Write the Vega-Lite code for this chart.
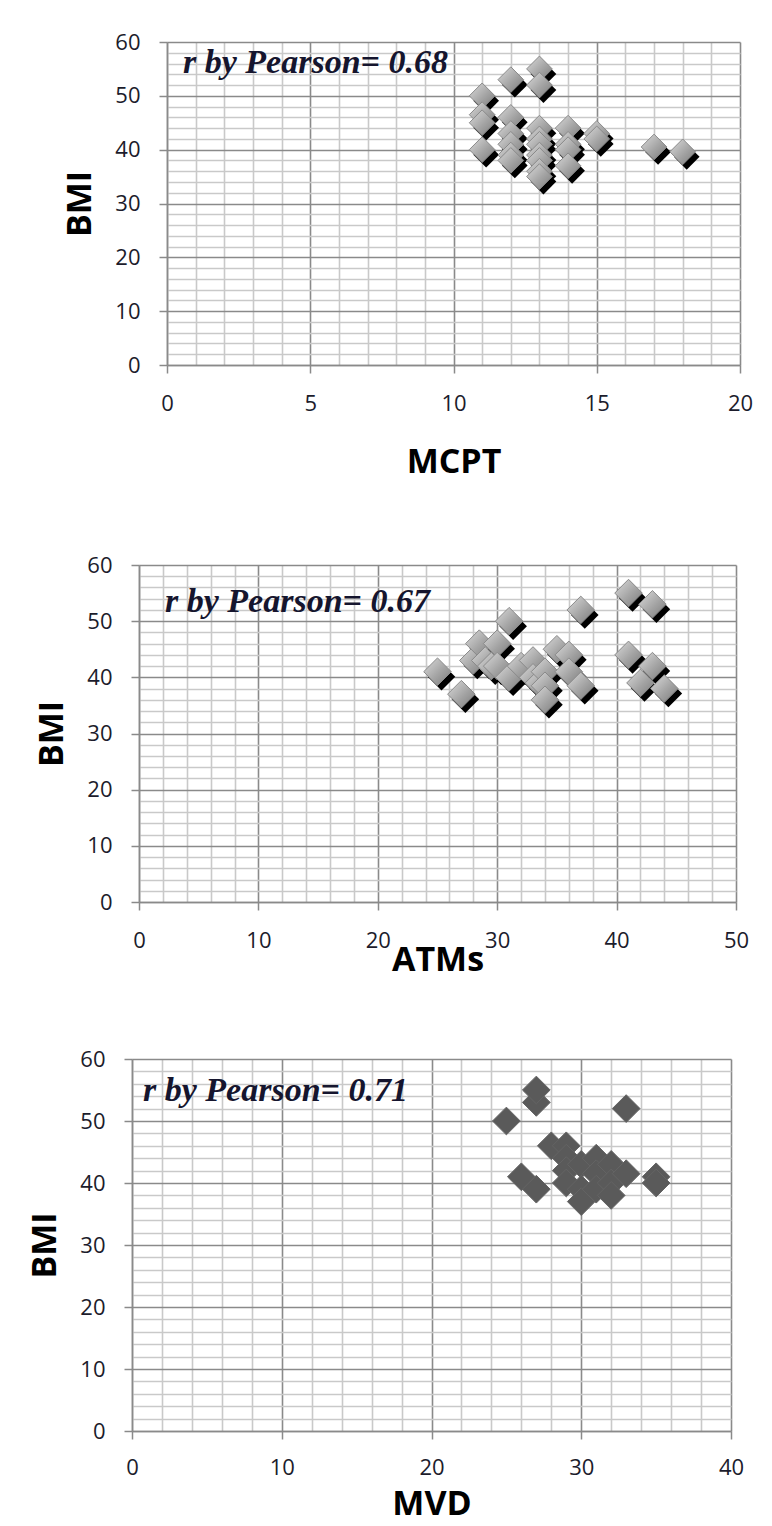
{
  "$schema": "https://vega.github.io/schema/vega-lite/v6.json",
  "background": "white",
  "padding": {"left": 28, "top": 31, "right": 5, "bottom": 2},
  "bounds": "full",
  "spacing": 75,
  "config": {
    "font": "Open Sans",
    "view": {"stroke": null},
    "axis": {
      "grid": true,
      "gridWidth": 1.6,
      "tickSize": 8,
      "tickColor": "#8a8a8a",
      "tickWidth": 1.5,
      "domainColor": "#8a8a8a",
      "domainWidth": 1.5,
      "labelFont": "Open Sans",
      "labelFontSize": 22,
      "labelColor": "#1c1c2c",
      "labelOverlap": false,
      "labelFlush": false,
      "titleFont": "Open Sans",
      "titleFontSize": 34,
      "titleFontWeight": "bold",
      "titleColor": "#000000",
      "titleBaseline": "middle"
    },
    "axisX": {"labelPadding": 20},
    "axisY": {"labelPadding": 19, "titleX": -87},
    "title": {"anchor": "start", "frame": "group", "baseline": "alphabetic", "font": "Liberation Serif", "fontSize": 34, "fontStyle": "italic", "fontWeight": "bold", "color": "#15152e"}
  },
  "datasets": {
    "mcpt": [
      {"mcpt": 11, "bmi": 50}, {"mcpt": 11, "bmi": 46.5}, {"mcpt": 11, "bmi": 45}, {"mcpt": 11, "bmi": 40},
      {"mcpt": 12, "bmi": 53}, {"mcpt": 12, "bmi": 46}, {"mcpt": 12, "bmi": 43}, {"mcpt": 12, "bmi": 41},
      {"mcpt": 12, "bmi": 39}, {"mcpt": 12, "bmi": 38},
      {"mcpt": 13, "bmi": 55}, {"mcpt": 13, "bmi": 52}, {"mcpt": 13, "bmi": 44}, {"mcpt": 13, "bmi": 42},
      {"mcpt": 13, "bmi": 41}, {"mcpt": 13, "bmi": 39}, {"mcpt": 13, "bmi": 38}, {"mcpt": 13, "bmi": 36},
      {"mcpt": 13, "bmi": 35},
      {"mcpt": 14, "bmi": 44}, {"mcpt": 14, "bmi": 41}, {"mcpt": 14, "bmi": 40}, {"mcpt": 14, "bmi": 37},
      {"mcpt": 15, "bmi": 43}, {"mcpt": 15, "bmi": 42},
      {"mcpt": 17, "bmi": 40.5}, {"mcpt": 18, "bmi": 39.6}
    ],
    "atms": [
      {"atms": 25, "bmi": 41}, {"atms": 27, "bmi": 37}, {"atms": 28, "bmi": 43}, {"atms": 28.5, "bmi": 46},
      {"atms": 29, "bmi": 43}, {"atms": 29.5, "bmi": 42}, {"atms": 30, "bmi": 46}, {"atms": 30, "bmi": 42},
      {"atms": 31, "bmi": 50}, {"atms": 31, "bmi": 40}, {"atms": 32, "bmi": 42}, {"atms": 33, "bmi": 43},
      {"atms": 33, "bmi": 40}, {"atms": 33.5, "bmi": 39}, {"atms": 34, "bmi": 41}, {"atms": 34, "bmi": 38.5},
      {"atms": 34, "bmi": 36}, {"atms": 35, "bmi": 45}, {"atms": 36, "bmi": 44}, {"atms": 36, "bmi": 41},
      {"atms": 37, "bmi": 38.5}, {"atms": 37, "bmi": 52}, {"atms": 41, "bmi": 55}, {"atms": 43, "bmi": 53},
      {"atms": 41, "bmi": 44}, {"atms": 43, "bmi": 42}, {"atms": 42, "bmi": 39}, {"atms": 44, "bmi": 38}
    ],
    "mvd": [
      {"mvd": 25, "bmi": 50}, {"mvd": 26, "bmi": 41}, {"mvd": 27, "bmi": 39}, {"mvd": 27, "bmi": 53},
      {"mvd": 27, "bmi": 55}, {"mvd": 28, "bmi": 46}, {"mvd": 29, "bmi": 46}, {"mvd": 29, "bmi": 44},
      {"mvd": 29, "bmi": 42}, {"mvd": 29, "bmi": 40}, {"mvd": 30, "bmi": 43}, {"mvd": 30, "bmi": 39},
      {"mvd": 30, "bmi": 37}, {"mvd": 31, "bmi": 44}, {"mvd": 31, "bmi": 41.5}, {"mvd": 31, "bmi": 39},
      {"mvd": 32, "bmi": 43}, {"mvd": 32, "bmi": 40}, {"mvd": 32, "bmi": 38}, {"mvd": 33, "bmi": 41.5},
      {"mvd": 33, "bmi": 52}, {"mvd": 35, "bmi": 41}, {"mvd": 35, "bmi": 40}
    ]
  },
  "vconcat": [
    {
      "width": 608,
      "height": 323,
      "title": {"text": "r by Pearson= 0.68", "offset": -49, "dx": 51},
      "data": {"name": "mcpt"},
      "encoding": {
        "x": {
          "field": "mcpt", "type": "quantitative",
          "scale": {"domain": [0, 20], "range": [35, 608], "nice": false, "zero": false},
          "axis": {
            "title": "MCPT",
            "titleY": 97,
            "values": [0,1,2,3,4,5,6,7,8,9,10,11,12,13,14,15,16,17,18,19,20],
            "labelExpr": "datum.value % 5 === 0 ? datum.label : ''",
            "gridColor": {"condition": {"test": "datum.value % 5 === 0", "value": "#8a8a8a"}, "value": "#c9c9c9"},
            "tickOpacity": {"condition": {"test": "datum.value % 5 === 0", "value": 1}, "value": 0}
          }
        },
        "y": {
          "field": "bmi", "type": "quantitative",
          "scale": {"domain": [0, 60], "nice": false, "zero": false},
          "axis": {
            "title": "BMI",
            "offset": -35,
            "values": [0,2,4,6,8,10,12,14,16,18,20,22,24,26,28,30,32,34,36,38,40,42,44,46,48,50,52,54,56,58,60],
            "labelExpr": "datum.value % 10 === 0 ? datum.label : ''",
            "gridColor": {"condition": {"test": "datum.value % 10 === 0", "value": "#8a8a8a"}, "value": "#c9c9c9"},
            "tickOpacity": {"condition": {"test": "datum.value % 10 === 0", "value": 1}, "value": 0}
          }
        }
      },
      "layer": [
        {"mark": {"type": "point", "shape": "diamond", "filled": true, "color": "#000000", "opacity": 1, "size": 660, "xOffset": 4, "yOffset": 5}},
        {"mark": {"type": "point", "shape": "diamond", "filled": true, "opacity": 1, "size": 660, "stroke": "#8a8a8a", "strokeWidth": 1,
          "fill": {"gradient": "linear", "x1": 0, "y1": 0, "x2": 1, "y2": 1, "stops": [{"offset": 0, "color": "#dcdcdc"}, {"offset": 0.55, "color": "#a4a4a4"}, {"offset": 1, "color": "#7a7a7a"}]}}}
      ]
    },
    {
      "vconcat": [
        {
          "width": 604,
          "height": 337,
          "title": {"text": "r by Pearson= 0.67", "offset": -65, "dx": 33},
          "data": {"name": "atms"},
          "encoding": {
            "x": {
              "field": "atms", "type": "quantitative",
              "scale": {"domain": [0, 50], "range": [7, 604], "nice": false, "zero": false},
              "axis": {
                "title": "ATMs",
                "titleY": 58,
                "values": [0,2,4,6,8,10,12,14,16,18,20,22,24,26,28,30,32,34,36,38,40,42,44,46,48,50],
                "labelExpr": "datum.value % 10 === 0 ? datum.label : ''",
                "gridColor": {"condition": {"test": "datum.value % 10 === 0", "value": "#8a8a8a"}, "value": "#c9c9c9"},
                "tickOpacity": {"condition": {"test": "datum.value % 10 === 0", "value": 1}, "value": 0}
              }
            },
            "y": {
              "field": "bmi", "type": "quantitative",
              "scale": {"domain": [0, 60], "nice": false, "zero": false},
              "axis": {
                "title": "BMI",
                "offset": -7,
                "values": [0,2,4,6,8,10,12,14,16,18,20,22,24,26,28,30,32,34,36,38,40,42,44,46,48,50,52,54,56,58,60],
                "labelExpr": "datum.value % 10 === 0 ? datum.label : ''",
                "gridColor": {"condition": {"test": "datum.value % 10 === 0", "value": "#8a8a8a"}, "value": "#c9c9c9"},
                "tickOpacity": {"condition": {"test": "datum.value % 10 === 0", "value": 1}, "value": 0}
              }
            }
          },
          "layer": [
            {"mark": {"type": "point", "shape": "diamond", "filled": true, "color": "#000000", "opacity": 1, "size": 760, "xOffset": 4, "yOffset": 5}},
            {"mark": {"type": "point", "shape": "diamond", "filled": true, "opacity": 1, "size": 760, "stroke": "#8a8a8a", "strokeWidth": 1,
              "fill": {"gradient": "linear", "x1": 0, "y1": 0, "x2": 1, "y2": 1, "stops": [{"offset": 0, "color": "#dcdcdc"}, {"offset": 0.55, "color": "#a4a4a4"}, {"offset": 1, "color": "#7a7a7a"}]}}}
          ]
        },
        {
          "width": 599,
          "height": 372,
          "title": {"text": "r by Pearson= 0.71", "offset": -60, "dx": 11},
          "data": {"name": "mvd"},
          "encoding": {
            "x": {
              "field": "mvd", "type": "quantitative",
              "scale": {"domain": [0, 40], "nice": false, "zero": false},
              "axis": {
                "title": "MVD",
                "titleY": 73,
                "labelPadding": 18,
                "values": [0,2,4,6,8,10,12,14,16,18,20,22,24,26,28,30,32,34,36,38,40],
                "labelExpr": "datum.value % 10 === 0 ? datum.label : ''",
                "gridColor": {"condition": {"test": "datum.value % 10 === 0", "value": "#8a8a8a"}, "value": "#c9c9c9"},
                "tickOpacity": {"condition": {"test": "datum.value % 10 === 0", "value": 1}, "value": 0}
              }
            },
            "y": {
              "field": "bmi", "type": "quantitative",
              "scale": {"domain": [0, 60], "nice": false, "zero": false},
              "axis": {
                "title": "BMI",
                "values": [0,2,4,6,8,10,12,14,16,18,20,22,24,26,28,30,32,34,36,38,40,42,44,46,48,50,52,54,56,58,60],
                "labelExpr": "datum.value % 10 === 0 ? datum.label : ''",
                "gridColor": {"condition": {"test": "datum.value % 10 === 0", "value": "#8a8a8a"}, "value": "#c9c9c9"},
                "tickOpacity": {"condition": {"test": "datum.value % 10 === 0", "value": 1}, "value": 0}
              }
            }
          },
          "layer": [
            {"mark": {"type": "point", "shape": "diamond", "filled": true, "color": "#5a5a5a", "opacity": 1, "size": 770, "stroke": "#646464", "strokeWidth": 1}}
          ]
        }
      ],
      "spacing": 71
    }
  ]
}
